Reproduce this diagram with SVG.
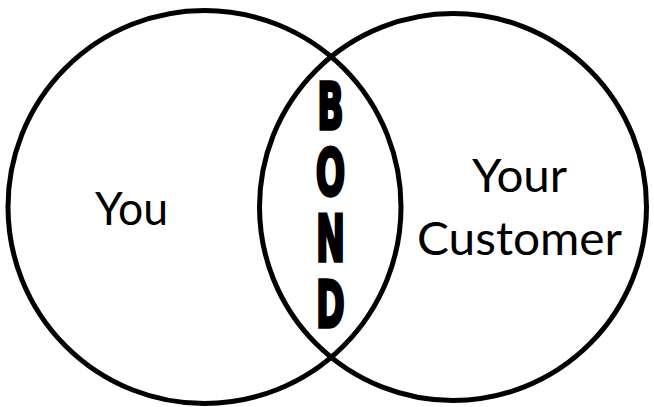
<svg xmlns="http://www.w3.org/2000/svg" width="654" height="407" viewBox="0 0 654 407">
<style>
.c{fill:none;stroke:#000;stroke-width:5}
.t{font-family:Lato,"Open Sans",sans-serif;font-size:46px;fill:#000}
.b{font-family:"DejaVu Sans",sans-serif;font-weight:bold;font-size:56px;fill:#000;stroke:#000;stroke-width:3;stroke-linejoin:miter;text-anchor:middle}
</style>
<rect width="654" height="407" fill="#fff"/>
<g id="you">
<circle class="c" cx="204.5" cy="207" r="196.5"/>
<text class="t" x="95" y="225" textLength="73" lengthAdjust="spacingAndGlyphs">You</text>
</g>
<g id="customer">
<circle class="c" cx="453" cy="207" r="193.5"/>
<text class="t" x="472" y="192" textLength="95" lengthAdjust="spacingAndGlyphs">Your</text>
<text class="t" x="417" y="255" textLength="205" lengthAdjust="spacingAndGlyphs">Customer</text>
</g>
<g id="bond">
<text class="b" transform="scale(0.62,1.15)"><tspan x="533" y="112.2">B</tspan><tspan x="533" y="169.6">O</tspan><tspan x="533" y="227">N</tspan><tspan x="533" y="284.3">D</tspan></text>
</g>
</svg>
